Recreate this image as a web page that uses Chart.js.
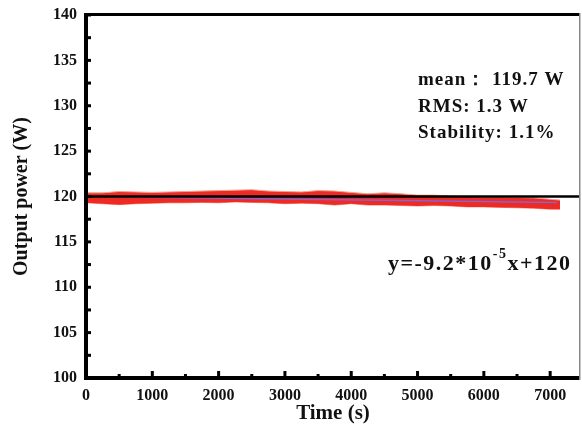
<!DOCTYPE html>
<html>
<head>
<meta charset="utf-8">
<script src="https://cdn.jsdelivr.net/npm/chart.js@4.4.1/dist/chart.umd.min.js"></script>
<style>
html,body{margin:0;padding:0;background:#fff;}
#wrap{width:582px;height:426px;}
</style>
</head>
<body>
<div id="wrap"><canvas id="powerChart" width="582" height="426"></canvas></div>
<script>

// data
const timeS = [0,250,500,750,1000,1250,1500,1750,2000,2250,2500,2750,3000,3250,3500,3750,4000,4250,4500,4750,5000,5250,5500,5750,6000,6250,6500,6750,7000,7150];
const upperW = [120.4,120.4,120.55,120.5,120.45,120.5,120.55,120.6,120.65,120.7,120.75,120.6,120.55,120.5,120.65,120.6,120.45,120.3,120.4,120.3,120.15,120.15,120.05,120.0,119.95,119.95,119.9,119.85,119.7,119.6];
const lowerW = [119.3,119.2,119.1,119.2,119.25,119.3,119.3,119.35,119.3,119.4,119.35,119.3,119.2,119.25,119.2,119.05,119.2,119.05,119.05,119.0,118.95,119.0,118.95,118.85,118.85,118.8,118.75,118.7,118.6,118.6];
const fitX = [0,7100];
const fitY = [120,119.35];
const refX = [0,7450];
const refY = [120,120];
const yTicks = [100,105,110,115,120,125,130,135,140];
const xTicks = [0,1000,2000,3000,4000,5000,6000,7000];
const statLines = ["mean\uFF1A 119.7 W","RMS: 1.3 W","Stability: 1.1%"];

const serif = "'Liberation Serif','Times New Roman',serif";

function pts(xs,ys){
return xs.map((x,i)=>({x:x,y:ys[i]}))
}

// frame, inward ticks and text
const framePlugin = {
id:"frame",
afterDraw(chart){
const ctx = chart.ctx
const a = chart.chartArea
const xs = chart.scales.x
const ys = chart.scales.y
ctx.save()
ctx.fillStyle = "#000"

// ticks
for(let v=100; v<=140; v+=2.5){
let py = ys.getPixelForValue(v)
ctx.fillRect(a.left, py-1.5, 5, 3)
}
for(let v=500; v<=7000; v+=500){
let px = xs.getPixelForValue(v)
let len = (v%1000===0) ? 7 : 4
ctx.fillRect(px-1.5, a.bottom-len, 3, len)
}

// borders
ctx.fillRect(a.left-2, a.top-2, 4, a.bottom-a.top+4)
ctx.fillRect(a.left-2, a.bottom-2, a.right-a.left+2, 4)
ctx.fillRect(a.left-2, a.top-2, a.right-a.left+2, 3)
ctx.fillStyle = "#888"
ctx.fillRect(a.right-1, a.top-2, 1.5, a.bottom-a.top+4)

// stats text
ctx.fillStyle = "#111"
ctx.letterSpacing = "1px"
ctx.font = "bold 19px " + serif
ctx.textBaseline = "alphabetic"
ctx.fillText(statLines[0], 418, 85)
ctx.fillText(statLines[1], 418, 112)
ctx.fillText(statLines[2], 418, 138)

// fit equation
ctx.letterSpacing = "1.5px"
ctx.font = "bold 22px " + serif
let t1 = "y=-9.2*10"
ctx.fillText(t1, 388, 270)
let w1 = ctx.measureText(t1).width
ctx.font = "bold 14px " + serif
ctx.fillText("-5", 388+w1, 258)
let w2 = ctx.measureText("-5").width
ctx.font = "bold 22px " + serif
ctx.fillText("x+120", 388+w1+w2, 270)
ctx.restore()
}
}

const ctx = document.getElementById("powerChart")

new Chart(ctx,{
type:"scatter",
data:{
datasets:[
{
data:pts(timeS,lowerW),
showLine:true,
borderColor:"#f7a08c",
borderWidth:1,
pointRadius:0,
fill:false,
order:4
},
{
data:pts(timeS,upperW),
showLine:true,
borderColor:"#f7a08c",
borderWidth:1,
backgroundColor:"#ee2a24",
pointRadius:0,
fill:"-1",
order:3
},
{
data:pts(fitX,fitY),
showLine:true,
borderColor:"#8a62c8",
borderWidth:1.5,
pointRadius:0,
order:2
},
{
data:pts(refX,refY),
showLine:true,
borderColor:"#000",
borderWidth:2.5,
pointRadius:0,
order:1
}
]
},
options:{
responsive:false,
animation:false,
layout:{padding:{top:15,right:2,left:0,bottom:0}},
plugins:{legend:{display:false},tooltip:{enabled:false}},
scales:{
x:{
type:"linear",
min:0,
max:7450,
afterBuildTicks(s){ s.ticks = xTicks.map(v=>({value:v})) },
afterFit(s){ s.height = 48 },
grid:{display:false},
border:{display:false},
ticks:{color:"#111",font:{family:serif,size:16,weight:"bold"},padding:0,maxRotation:0,autoSkip:false,callback:v=>String(v)},
title:{display:true,text:"Time (s)",color:"#111",font:{family:serif,size:21,weight:"bold"},padding:{top:0,bottom:0}}
},
y:{
min:100,
max:140,
afterBuildTicks(s){ s.ticks = yTicks.map(v=>({value:v})) },
afterFit(s){ s.width = 86 },
grid:{display:false},
border:{display:false},
ticks:{color:"#111",font:{family:serif,size:16,weight:"bold"},padding:1,callback:v=>String(v)},
title:{display:true,text:"Output power (W)",color:"#111",font:{family:serif,size:20,weight:"bold"},padding:{top:10,bottom:0}}
}
}
},
plugins:[framePlugin]
})
</script>
</body>
</html>
